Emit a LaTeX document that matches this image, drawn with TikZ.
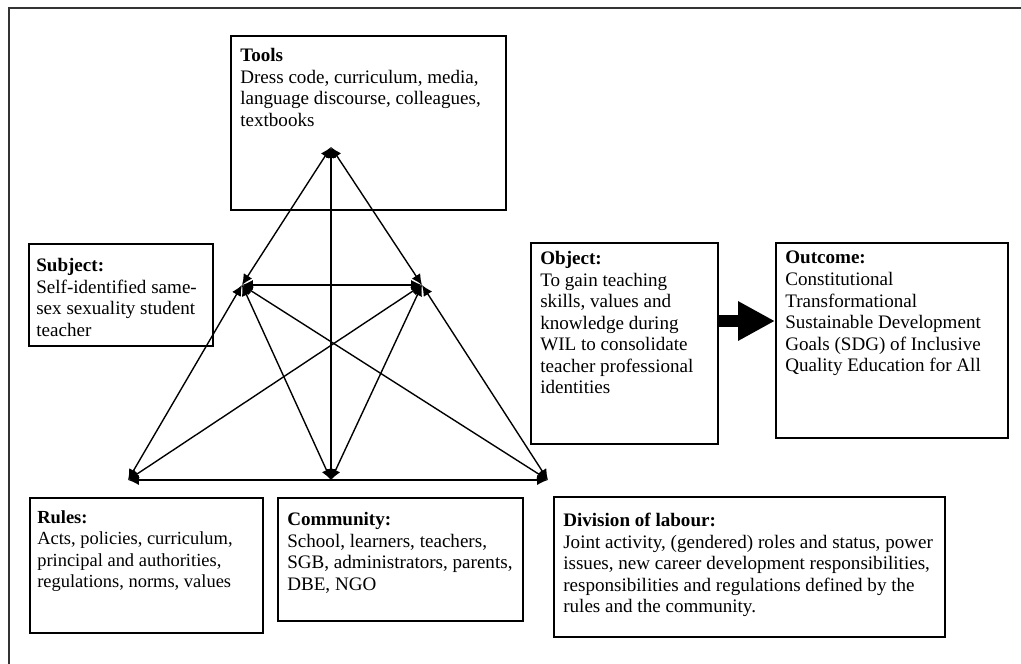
\documentclass[tikz,border=0pt]{standalone}
\usepackage{fontspec}
\setmainfont{Liberation Serif}
\usetikzlibrary{arrows.meta,positioning}
\newcommand{\pxl}{0.65pt}

\begin{document}
\begin{tikzpicture}[x=\pxl, y=-\pxl]
        \tikzstyle{every node}=[font=\fontsize{12.4}{14}\selectfont]
        \tikzstyle{box}=[draw, line width=1.1pt, anchor=north west, inner sep=0pt]
        \tikzstyle{txt}=[anchor=north west, inner sep=0pt, align=left]
        \tikzstyle{link}=[line width=0.9pt, >={Latex[length=7pt,width=6.5pt]}, <->]
        \tikzstyle{bigarrow}=[line width=7.8pt, -{Triangle[length=24pt,width=24pt]}]
        \useasboundingbox (0,0) rectangle (1021,663);
        \clip (0,0) rectangle (1021,663);
        \draw[line width=1pt, black!80] (9,8) rectangle (1040,690);

        % the seven boxes
        \node[box, minimum width=275*\pxl, minimum height=174*\pxl] (tools) at (230,35) {};
        \node[box, minimum width=184*\pxl, minimum height=102*\pxl] (subject) at (28,243) {};
        \node[box, minimum width=187*\pxl, minimum height=201*\pxl] (object) at (530,242) {};
        \node[box, minimum width=232*\pxl, minimum height=195*\pxl] (outcome) at (775,242) {};
        \node[box, minimum width=233*\pxl, minimum height=135*\pxl] (rules) at (29,497) {};
        \node[box, minimum width=245*\pxl, minimum height=123*\pxl] (community) at (277,497) {};
        \node[box, minimum width=391*\pxl, minimum height=140*\pxl] (labour) at (553,496) {};

        % texts
        \node[txt] (toolstext) at ([shift={(10,13)}]tools.north west)
            {\textbf{Tools}\\Dress code, curriculum, media,\\language discourse, colleagues,\\textbooks};
        \node[txt] (subjecttext) at ([shift={(8,15)}]subject.north west)
            {\textbf{Subject:}\\Self-identified same-\\sex sexuality student\\teacher};
        \node[txt] (objecttext) at ([shift={(10,9)}]object.north west)
            {\textbf{Object:}\\To gain teaching\\skills, values and\\knowledge during\\WIL to consolidate\\teacher professional\\identities};
        \node[txt] (outcometext) at ([shift={(10,9)}]outcome.north west)
            {\textbf{Outcome:}\\Constitutional\\Transformational\\Sustainable Development\\Goals (SDG) of Inclusive\\Quality Education for All};
        \node[txt, font=\fontsize{12}{14}\selectfont] (rulestext) at ([shift={(8,13)}]rules.north west)
            {\textbf{Rules:}\\Acts, policies, curriculum,\\principal and authorities,\\regulations, norms, values};
        \node[txt] (communitytext) at ([shift={(10,15)}]community.north west)
            {\textbf{Community:}\\School, learners, teachers,\\SGB, administrators, parents,\\DBE, NGO};
        \node[txt] (labourtext) at ([shift={(10,17)}]labour.north west)
            {\textbf{Division of labour:}\\Joint activity, (gendered) roles and status, power\\issues, new career development responsibilities,\\responsibilities and regulations defined by the\\rules and the community.};

        % triangle corners
        \coordinate (T) at (331,147);
        \coordinate (L) at (242,285);
        \coordinate (R) at (422,285);
        \coordinate (BL) at (128,480);
        \coordinate (BM) at (331,480);
        \coordinate (BR) at (548,480);

        \draw[link] (T) -- (L);
        \draw[link] (T) -- (R);
        \draw[link] (T) -- (BM);
        \draw[link] (L) -- (R);
        \draw[link] (L) -- (BL);
        \draw[link] (L) -- (BM);
        \draw[link] (L) -- (BR);
        \draw[link] (R) -- (BR);
        \draw[link] (R) -- (BM);
        \draw[link] (R) -- (BL);
        \draw[link] (BL) -- (BR);

        % object to outcome
        \coordinate (mid) at (0,321);
        \draw[bigarrow] (object.east |- mid) -- (outcome.west |- mid);
\end{tikzpicture}
\end{document}
